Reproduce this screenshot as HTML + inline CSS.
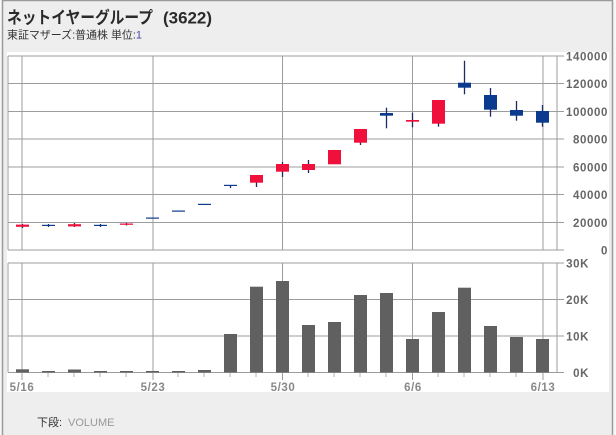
<!DOCTYPE html>
<html><head><meta charset="utf-8"><style>
html,body{margin:0;padding:0;background:#f4f4f4;}
svg{display:block;}
</style></head><body>
<svg width="616" height="435" viewBox="0 0 616 435" xmlns="http://www.w3.org/2000/svg">
<rect x="0" y="0" width="616" height="435" fill="#f7f7f7"/>
<rect x="2.5" y="0.5" width="610" height="440" fill="#eeeeee" stroke="#9a9a9a" stroke-width="1.5"/>
<rect x="7" y="52" width="602" height="340" fill="#ffffff"/>
<text x="7" y="23.5" font-family="'Liberation Sans','Noto Sans CJK JP',sans-serif" font-size="17" font-weight="bold" fill="#2a2a2a"><tspan textLength="146" lengthAdjust="spacingAndGlyphs">ネットイヤーグループ</tspan><tspan x="163" textLength="49" lengthAdjust="spacingAndGlyphs">(3622)</tspan></text>
<text x="7" y="38.5" font-family="'Liberation Sans','Noto Sans CJK JP',sans-serif" font-size="11" fill="#333" textLength="135" lengthAdjust="spacingAndGlyphs">東証マザーズ:普通株 単位:<tspan fill="#4848a8">1</tspan></text>
<g stroke="#9c9c9c" stroke-width="1" shape-rendering="crispEdges" fill="none">
<!-- price panel frame & grid -->
<line x1="8" y1="56" x2="564" y2="56"/>
<line x1="8" y1="83.7" x2="564" y2="83.7"/>
<line x1="8" y1="111.4" x2="564" y2="111.4"/>
<line x1="8" y1="139.1" x2="564" y2="139.1"/>
<line x1="8" y1="166.9" x2="564" y2="166.9"/>
<line x1="8" y1="194.6" x2="564" y2="194.6"/>
<line x1="8" y1="222.3" x2="564" y2="222.3"/>
<line x1="8" y1="250" x2="564" y2="250"/>
<line x1="8" y1="56" x2="8" y2="250"/>
<line x1="557" y1="56" x2="557" y2="250"/>
<line x1="22" y1="56" x2="22" y2="250"/>
<line x1="153" y1="56" x2="153" y2="250"/>
<line x1="282.5" y1="56" x2="282.5" y2="250"/>
<line x1="412.5" y1="56" x2="412.5" y2="250"/>
<line x1="543" y1="56" x2="543" y2="250"/>
<!-- volume panel -->
<line x1="8" y1="263" x2="564" y2="263"/>
<line x1="8" y1="299.5" x2="564" y2="299.5"/>
<line x1="8" y1="336" x2="564" y2="336"/>
<line x1="8" y1="372.5" x2="564" y2="372.5"/>
<line x1="8" y1="263" x2="8" y2="372.5"/>
<line x1="557" y1="263" x2="557" y2="372.5"/>
<line x1="22" y1="263" x2="22" y2="380"/>
<line x1="153" y1="263" x2="153" y2="380"/>
<line x1="282.5" y1="263" x2="282.5" y2="380"/>
<line x1="412.5" y1="263" x2="412.5" y2="380"/>
<line x1="543" y1="263" x2="543" y2="380"/>
</g>
<g stroke="#b0b0b0" stroke-width="1" shape-rendering="crispEdges">
<line x1="48" y1="373" x2="48" y2="377"/><line x1="74" y1="373" x2="74" y2="377"/><line x1="100" y1="373" x2="100" y2="377"/><line x1="126" y1="373" x2="126" y2="377"/>
<line x1="178" y1="373" x2="178" y2="377"/><line x1="204" y1="373" x2="204" y2="377"/><line x1="230" y1="373" x2="230" y2="377"/><line x1="256" y1="373" x2="256" y2="377"/>
<line x1="308" y1="373" x2="308" y2="377"/><line x1="334" y1="373" x2="334" y2="377"/><line x1="360" y1="373" x2="360" y2="377"/><line x1="386" y1="373" x2="386" y2="377"/>
<line x1="438" y1="373" x2="438" y2="377"/><line x1="464" y1="373" x2="464" y2="377"/><line x1="490" y1="373" x2="490" y2="377"/><line x1="516" y1="373" x2="516" y2="377"/>
</g>
<!-- volume bars -->
<g fill="#606060">
<rect x="16" y="369.3" width="13" height="3.2"/>
<rect x="42" y="371" width="13" height="1.5"/>
<rect x="68" y="369.5" width="13" height="3"/>
<rect x="94" y="371" width="13" height="1.5"/>
<rect x="120" y="371" width="13" height="1.5"/>
<rect x="146" y="371" width="13" height="1.5"/>
<rect x="172" y="371" width="13" height="1.5"/>
<rect x="198" y="370" width="13" height="2.5"/>
<rect x="224" y="334" width="13" height="38.5"/>
<rect x="250" y="286.7" width="13" height="85.8"/>
<rect x="276" y="281" width="13" height="91.5"/>
<rect x="302" y="325" width="13" height="47.5"/>
<rect x="328" y="322" width="13" height="50.5"/>
<rect x="354" y="295" width="13" height="77.5"/>
<rect x="380" y="293" width="13" height="79.5"/>
<rect x="406" y="339" width="13" height="33.5"/>
<rect x="432" y="312" width="13" height="60.5"/>
<rect x="458" y="287.7" width="13" height="84.8"/>
<rect x="484" y="326" width="13" height="46.5"/>
<rect x="510" y="337" width="13" height="35.5"/>
<rect x="536" y="339" width="13" height="33.5"/>
</g>
<!-- wicks -->
<g stroke="#1c2a66" stroke-width="1.3">
<line x1="22.5" y1="224" x2="22.5" y2="228"/>
<line x1="48.5" y1="224" x2="48.5" y2="227"/>
<line x1="74.5" y1="223" x2="74.5" y2="227"/>
<line x1="100.5" y1="224" x2="100.5" y2="227"/>
<line x1="126.5" y1="223" x2="126.5" y2="225.5"/>
<line x1="230.5" y1="185" x2="230.5" y2="188"/>
<line x1="256.5" y1="180" x2="256.5" y2="187"/>
<line x1="282.5" y1="162" x2="282.5" y2="177"/>
<line x1="308.5" y1="160" x2="308.5" y2="173"/>
<line x1="360.5" y1="140" x2="360.5" y2="145"/>
<line x1="386.5" y1="107.7" x2="386.5" y2="128.3"/>
<line x1="412.5" y1="112.7" x2="412.5" y2="127.3"/>
<line x1="438.5" y1="120" x2="438.5" y2="126.7"/>
<line x1="464.5" y1="60.7" x2="464.5" y2="94.3"/>
<line x1="490.5" y1="88" x2="490.5" y2="116.7"/>
<line x1="516.5" y1="101" x2="516.5" y2="120.7"/>
<line x1="542.5" y1="105" x2="542.5" y2="126.7"/>
</g>
<!-- red bodies -->
<g fill="#f0103c">
<rect x="16" y="224.6" width="13" height="2.2"/>
<rect x="68" y="224.2" width="13" height="2.2"/>
<rect x="120" y="223.5" width="13" height="1.3"/>
<rect x="250" y="175" width="13" height="7.7"/>
<rect x="276" y="164" width="13" height="7.7"/>
<rect x="302" y="164" width="13" height="6"/>
<rect x="328" y="150" width="13" height="14.3"/>
<rect x="354" y="129" width="13" height="13.7"/>
<rect x="406" y="120" width="13" height="1.7"/>
<rect x="432" y="100" width="13" height="23.7"/>
</g>
<!-- blue bodies -->
<g fill="#0c3a8e">
<rect x="42" y="224.8" width="13" height="1.2"/>
<rect x="94" y="224.8" width="13" height="1.2"/>
<rect x="146" y="217.5" width="13" height="1.2"/>
<rect x="172" y="210.5" width="13" height="1.2"/>
<rect x="198" y="203.8" width="13" height="1.2"/>
<rect x="224" y="184.8" width="13" height="1.2"/>
<rect x="380" y="113" width="13" height="2.7"/>
<rect x="458" y="82.7" width="13" height="5"/>
<rect x="484" y="95" width="13" height="14.7"/>
<rect x="510" y="110" width="13" height="5.7"/>
<rect x="536" y="111" width="13" height="11.7"/>
</g>
<!-- y labels -->
<g font-family="'Liberation Sans',sans-serif" font-size="11.5" font-weight="bold" fill="#666" text-anchor="end" letter-spacing="0.6">
<text x="608" y="60.5">140000</text>
<text x="608" y="88.2">120000</text>
<text x="608" y="115.9">100000</text>
<text x="608" y="143.6">80000</text>
<text x="608" y="171.4">60000</text>
<text x="608" y="199.1">40000</text>
<text x="608" y="226.8">20000</text>
<text x="608" y="254.5">0</text>
<text x="589" y="267.5">30K</text>
<text x="589" y="304">20K</text>
<text x="589" y="340.5">10K</text>
<text x="589" y="377">0K</text>
</g>
<!-- x labels -->
<g font-family="'Liberation Sans',sans-serif" font-size="11.5" font-weight="bold" fill="#888" text-anchor="middle" letter-spacing="0.6">
<text x="22" y="391">5/16</text>
<text x="153" y="391">5/23</text>
<text x="283" y="391">5/30</text>
<text x="413" y="391">6/6</text>
<text x="543" y="391">6/13</text>
</g>
<text x="37" y="426" font-family="'Liberation Sans','Noto Sans CJK JP',sans-serif" font-size="11" fill="#333">下段:<tspan x="68" fill="#999">VOLUME</tspan></text>
</svg>
</body></html>
